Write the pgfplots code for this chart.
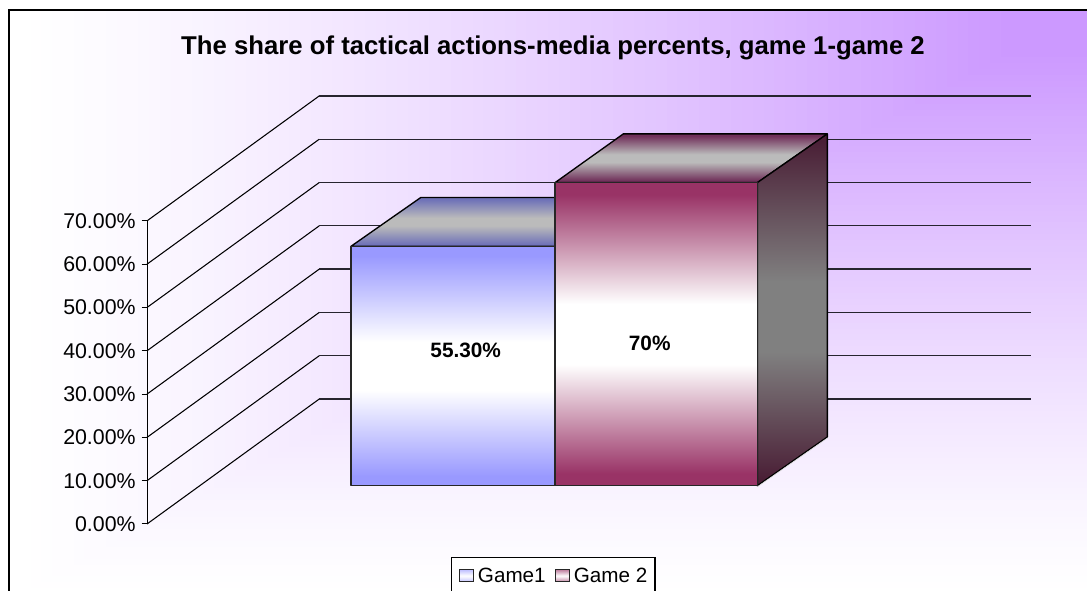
\documentclass[border=0pt]{standalone}
\usepackage{pgfplots}
\pgfplotsset{compat=1.18}
\usepackage{fontspec}
\setmainfont{Liberation Sans}
\definecolor{bgpurple}{HTML}{CC99FF}
\definecolor{gameA}{HTML}{9999FF}
\definecolor{gameB}{HTML}{993366}
\definecolor{gameAtop}{HTML}{6F72B8}
\definecolor{gameBtop}{HTML}{70305A}
\definecolor{sideedge}{HTML}{4A1F36}
\definecolor{sidemid}{HTML}{808080}
\definecolor{topmid}{HTML}{BBBBBB}
\definecolor{gridc}{HTML}{26242E}
\pgfdeclareverticalshading{shadeA}{100bp}{color(0bp)=(gameA); color(27bp)=(gameA); color(45bp)=(white); color(55bp)=(white); color(73bp)=(gameA); color(100bp)=(gameA)}
\pgfdeclareverticalshading{shadeB}{100bp}{color(0bp)=(gameB); color(27bp)=(gameB); color(45bp)=(white); color(55bp)=(white); color(73bp)=(gameB); color(100bp)=(gameB)}
\pgfdeclareverticalshading{shadeSide}{100bp}{color(0bp)=(sideedge); color(26bp)=(sideedge); color(44bp)=(sidemid); color(54bp)=(sidemid); color(74bp)=(sideedge); color(100bp)=(sideedge)}
\pgfdeclareverticalshading{shadeTopA}{100bp}{color(0bp)=(gameAtop); color(27bp)=(gameAtop); color(46bp)=(topmid); color(54bp)=(topmid); color(73bp)=(gameAtop); color(100bp)=(gameAtop)}
\pgfdeclareverticalshading{shadeTopB}{100bp}{color(0bp)=(gameBtop); color(27bp)=(gameBtop); color(46bp)=(topmid); color(54bp)=(topmid); color(73bp)=(gameBtop); color(100bp)=(gameBtop)}
\begin{document}
\begin{tikzpicture}
\useasboundingbox (0,0) rectangle (815.25pt,443.25pt);
\clip (0,0) rectangle (815.25pt,443.25pt);
\begin{scope}[x=0.75pt,y=-0.75pt,yshift=443.25pt]
\fill[white] (0,0) rectangle (1087,591);
\foreach \i in {100,99,...,0}{
  \pgfmathsetmacro{\t}{\i/100}
  \pgfmathsetmacro{\mix}{100*min(1,((1-\t)/0.92)^1.3)}
  \pgfmathsetmacro{\xl}{1087-\t*1078}
  \pgfmathsetmacro{\yb}{10+\t*590}
  \fill[bgpurple!\mix!white] (\xl,10) rectangle (1087,\yb);
}
\draw[black,line width=1.1pt] (9,600) -- (9,10) -- (1090,10);
\node[font=\fontsize{19.3}{22}\selectfont\bfseries,anchor=center] at (553,47.5) {The share of tactical actions-media percents, game 1-game 2};
\end{scope}
\begin{axis}[
  at={(110.25pt,50.25pt)},anchor=origin,
  x={(0.75pt,0pt)},y={(129.225pt,93.75pt)},z={(0pt,3.2475pt)},
  xmin=0,xmax=711.4,ymin=0,ymax=1,zmin=0,zmax=70,
  axis lines=left,
  axis line style={-,black,line width=0.75pt},
  x axis line style={draw=none},
  y axis line style={draw=none},
  xtick=\empty,ytick=\empty,
  ztick={0,10,20,30,40,50,60,70},
  zticklabels={0.00\%,10.00\%,20.00\%,30.00\%,40.00\%,50.00\%,60.00\%,70.00\%},
  major tick length=0pt,
  zticklabel style={anchor=east,xshift=-5pt,font=\fontsize{16}{18}\selectfont},
  clip=false,
  legend columns=2,
  legend cell align=left,
  legend style={at={(308.65pt,-38.25pt)},anchor=center,draw=black,line width=0.9pt,fill=white,
    font=\fontsize{15.5}{18}\selectfont,
    inner xsep=3.75pt,inner ysep=5.5pt,
    /tikz/every even column/.append style={column sep=3pt}},
]
\addlegendimage{legend image code/.code={\path (-2.25pt,0pt) (11pt,0pt);\draw[line width=0.75pt,draw=black!85,top color=gameA!60!white,bottom color=gameA!60!white,middle color=white] (0pt,-4.4pt) rectangle (9.8pt,4.4pt);}}
\addlegendentry{Game1}
\addlegendimage{legend image code/.code={\path (-2.25pt,0pt) (11pt,0pt);\draw[line width=0.75pt,draw=black!85,top color=gameB!60!white,bottom color=gameB!60!white,middle color=white] (0pt,-4.4pt) rectangle (9.8pt,4.4pt);}}
\addlegendentry{Game 2}
% tick marks, wall gridlines, back-plane gridlines
\pgfplotsinvokeforeach{0,10,20,30,40,50,60,70}{
  \addplot3[forget plot,black,line width=0.75pt] coordinates {(-5.3,0,#1)(0,0,#1)};
  \addplot3[forget plot,black,line width=0.8pt] coordinates {(0,0,#1)(0,1,#1)};
  \addplot3[forget plot,gridc,line width=0.95pt] coordinates {(0,1,#1)(711.4,1,#1)};
}
% Game 1 (55.3)
\addplot3[forget plot,draw=black,line width=1pt,line join=round,shade,shading=shadeTopA]
  coordinates {(151.3,0.306,55.3)(355.3,0.306,55.3)(356.4,0.696,55.3)(153.8,0.696,55.3)} -- cycle;
\addplot3[forget plot,draw=black!85,line width=1pt,line join=round,shade,shading=shadeA]
  coordinates {(151.3,0.306,0)(355.3,0.306,0)(355.3,0.306,55.3)(151.3,0.306,55.3)} -- cycle;
% Game 2 (70)
\addplot3[forget plot,draw=black,line width=1pt,line join=round,shade,shading=shadeTopB]
  coordinates {(355.3,0.306,70)(557.6,0.306,70)(560.4,0.696,70)(356.4,0.696,70)} -- cycle;
\addplot3[forget plot,draw=black,line width=1pt,line join=round,shade,shading=shadeSide]
  coordinates {(557.6,0.306,0)(560.4,0.696,0)(560.4,0.696,70)(557.6,0.306,70)} -- cycle;
\addplot3[forget plot,white!85!black,line width=0.45pt] coordinates {(557.9,0.306,-0.2)(560.8,0.696,-0.2)};
\addplot3[forget plot,draw=black!85,line width=1pt,line join=round,shade,shading=shadeB]
  coordinates {(355.3,0.306,0)(557.6,0.306,0)(557.6,0.306,70)(355.3,0.306,70)} -- cycle;
\node[font=\fontsize{15.6}{18}\selectfont\bfseries] at (axis cs:266,0.306,31.2) {55.30\%};
\node[font=\fontsize{15.6}{18}\selectfont\bfseries] at (axis cs:450,0.306,32.8) {70\%};
\end{axis}
\end{tikzpicture}
\end{document}
